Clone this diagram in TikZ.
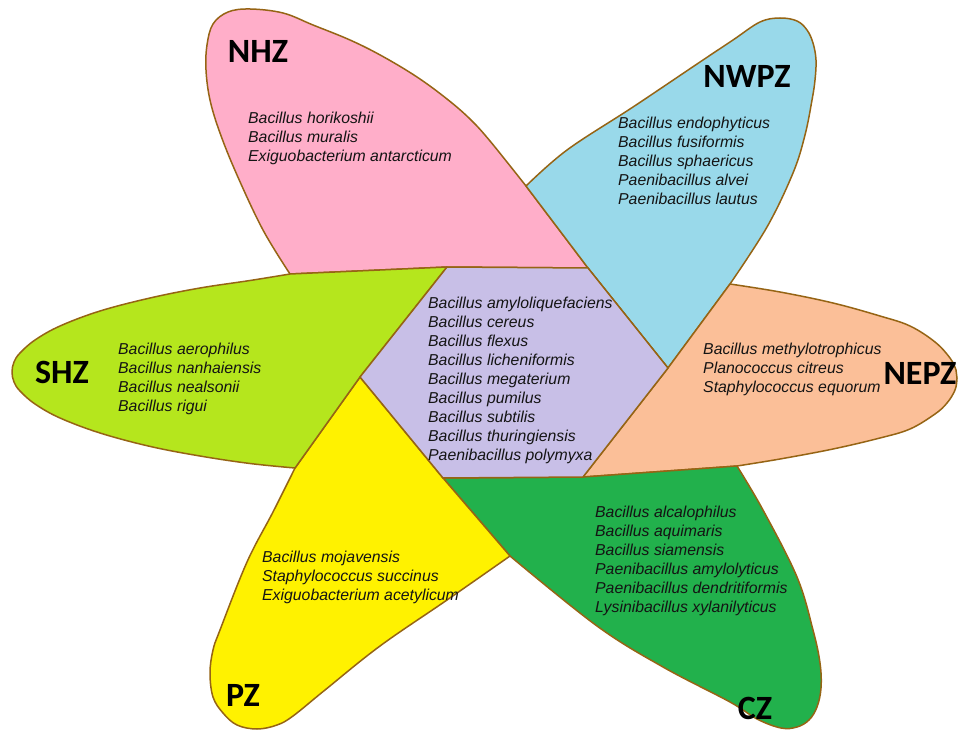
\documentclass[tikz,border=0pt]{standalone}
\usepackage{fontspec}
\setmainfont{Liberation Sans}
\newfontfamily\labfont{Carlito}
\definecolor{edgebrown}{RGB}{150,100,20}
\definecolor{pinkz}{RGB}{255,174,201}
\definecolor{bluez}{RGB}{153,217,234}
\definecolor{peachz}{RGB}{251,191,152}
\definecolor{darkgreenz}{RGB}{34,177,76}
\definecolor{yellowz}{RGB}{255,242,0}
\definecolor{limez}{RGB}{181,230,29}
\definecolor{lavenderz}{RGB}{200,191,231}
\definecolor{txt}{RGB}{20,20,20}
\begin{document}
\begin{tikzpicture}[x=1pt,y=-1pt,
  petal/.style={draw=edgebrown, line width=1.5pt, line join=round},
  lab/.style={font=\labfont\bfseries\fontsize{34}{40}\selectfont, inner sep=0pt},
  spp/.style={font=\itshape\fontsize{15.8}{19}\selectfont, align=left, anchor=north west, inner sep=0pt, text=txt}]
\fill[white] (0,0) rectangle (960,730);
\useasboundingbox (0,0) rectangle (960,730);
% hexagon vertices
\coordinate (H1) at (447,267);
\coordinate (H2) at (588,268);
\coordinate (H3) at (668,368);
\coordinate (H4) at (583,477);
\coordinate (H5) at (443,478);
\coordinate (H6) at (360,377);
% crossing points of petal outlines
\coordinate (Xpink) at (290,274);
\coordinate (Xblue) at (526,186);
\coordinate (Xorange) at (730,284);
\coordinate (XCZ) at (737,466);
\coordinate (XPZ) at (510,556);
\coordinate (XSHZ) at (295,468);
% NHZ petal
\path[petal, fill=pinkz] (Xpink) -- plot[smooth, tension=0.6] coordinates {(Xpink) (263,230) (237,175) (220,133) (210,100) (206,70) (207,45) (213,24) (228,12) (250,9) (283,13) (313,25) (350,40) (382,56) (417,77) (447,99) (470,119) (490,141) (Xblue)} -- (H2) -- (H1) -- cycle;
% NWPZ petal
\path[petal, fill=bluez] (Xblue) -- plot[smooth, tension=0.6] coordinates {(Xblue) (567,150) (633,107) (700,62) (733,40) (760,22) (780,18) (797,21) (807,30) (813,43) (816,60) (815,80) (812,100) (805,135) (793,173) (767,227) (Xorange)} -- (H3) -- (H2) -- cycle;
% NEPZ petal
\path[petal, fill=peachz] (Xorange) -- plot[smooth, tension=0.6] coordinates {(Xorange) (780,292) (833,303) (880,316) (910,326) (935,342) (950,358) (956,370) (957,378) (955,390) (947,403) (935,414) (910,429) (880,438) (833,449) (780,459) (XCZ)} -- (H4) -- (H3) -- cycle;
% CZ petal
\path[petal, fill=darkgreenz] (XCZ) -- plot[smooth, tension=0.6] coordinates {(XCZ) (763,510) (797,577) (813,630) (820,663) (821,688) (817,707) (809,720) (797,727) (781,728) (757,719) (730,702) (663,667) (597,626) (XPZ)} -- (H5) -- (H4) -- cycle;
% PZ petal
\path[petal, fill=yellowz] (XPZ) -- plot[smooth, tension=0.6] coordinates {(XPZ) (447,600) (380,646) (325,690) (293,716) (277,725) (257,729) (237,725) (223,713) (213,697) (210,673) (213,650) (220,630) (247,562) (273,512) (XSHZ)} -- (H6) -- (H5) -- cycle;
% SHZ petal
\path[petal, fill=limez] (XSHZ) -- plot[smooth, tension=0.6] coordinates {(XSHZ) (250,463.5) (200,456) (150,446.4) (100,433) (60,418) (35,404) (20,391) (14,382) (12,372) (14,362) (20,353) (35,340) (60,326) (100,311) (150,298) (200,288) (250,280.5) (Xpink)} -- (H1) -- (H6) -- cycle;
% centre
\path[petal, fill=lavenderz] (H1) -- (H2) -- (H3) -- (H4) -- (H5) -- (H6) -- cycle;
% zone labels
\node[lab] (nhz) at (258,51) {NHZ};
\node[lab] (nwpz) at (747,76) {NWPZ};
\node[lab] (nepz) at (920,373) {NEPZ};
\node[lab] (shz) at (62,372) {SHZ};
\node[lab] (pz) at (243,695) {PZ};
\node[lab] (cz) at (755,708) {CZ};
% species lists
\node[spp] (lnhz) at (248,112) {Bacillus horikoshii\\Bacillus muralis\\Exiguobacterium antarcticum};
\node[spp] (lnwpz) at (618,117) {Bacillus endophyticus\\Bacillus fusiformis\\Bacillus sphaericus\\Paenibacillus alvei\\Paenibacillus lautus};
\node[spp] (lcore) at (428,297) {Bacillus amyloliquefaciens\\Bacillus cereus\\Bacillus flexus\\Bacillus licheniformis\\Bacillus megaterium\\Bacillus pumilus\\Bacillus subtilis\\Bacillus thuringiensis\\Paenibacillus polymyxa};
\node[spp] (lnepz) at (703,343) {Bacillus methylotrophicus\\Planococcus citreus\\Staphylococcus equorum};
\node[spp] (lshz) at (118,343) {Bacillus aerophilus\\Bacillus nanhaiensis\\Bacillus nealsonii\\Bacillus rigui};
\node[spp] (lpz) at (262,551) {Bacillus mojavensis\\Staphylococcus succinus\\Exiguobacterium acetylicum};
\node[spp] (lcz) at (595,506) {Bacillus alcalophilus\\Bacillus aquimaris\\Bacillus siamensis\\Paenibacillus amylolyticus\\Paenibacillus dendritiformis\\Lysinibacillus xylanilyticus};
\end{tikzpicture}
\end{document}
